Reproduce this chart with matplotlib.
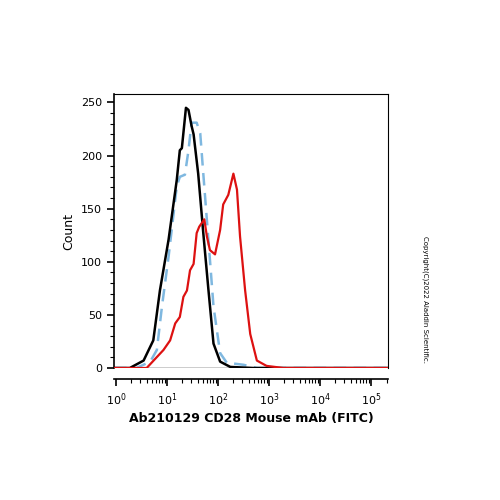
import matplotlib
matplotlib.use("Agg")
import matplotlib.pyplot as plt
import numpy as np
from matplotlib.ticker import LogLocator, MultipleLocator, NullFormatter

black_logx = [-0.04, 0.27, 0.54, 0.73, 0.86, 1.03, 1.19, 1.25, 1.29, 1.37, 1.42, 1.48, 1.52, 1.61, 1.71, 1.81, 1.91, 2.04, 2.24, 2.69, 5.33]
black_y = [0, 0, 7, 26, 73, 121, 177, 205, 207, 245, 243, 228, 220, 183, 127, 74, 23, 6, 1, 0, 0]
blue_logx = [-0.04, 0.40, 0.67, 0.80, 0.90, 1.03, 1.19, 1.25, 1.35, 1.42, 1.48, 1.58, 1.65, 1.71, 1.81, 1.91, 2.04, 2.17, 2.50, 2.76, 5.33]
blue_y = [0, 0, 6, 17, 58, 105, 171, 180, 182, 205, 231, 231, 221, 183, 121, 58, 14, 5, 3, 0, 0]
red_logx = [-0.04, 0.60, 0.93, 1.06, 1.16, 1.25, 1.32, 1.39, 1.45, 1.52, 1.58, 1.63, 1.73, 1.78, 1.84, 1.94, 2.04, 2.10, 2.20, 2.30, 2.37, 2.43, 2.53, 2.63, 2.76, 2.95, 3.28, 5.33]
red_y = [0, 0, 17, 26, 42, 48, 67, 73, 92, 98, 127, 133, 140, 124, 111, 107, 130, 154, 163, 183, 168, 124, 73, 32, 7, 2, 0, 0]

fig = plt.figure(figsize=(5, 5), dpi=100)
ax = fig.add_axes([0.228, 0.264, 0.548, 0.548])
ax.plot(10**np.array(black_logx), black_y, color="black", lw=1.8, zorder=3)
ax.plot(10**np.array(blue_logx), blue_y, color="#7fb8e0", lw=1.8, ls=(0, (5, 3)), zorder=2)
ax.plot(10**np.array(red_logx), red_y, color="#dd1111", lw=1.6, zorder=4)
ax.axhline(0, color="black", lw=1, zorder=1)
ax.set_xscale("log")
ax.set_xlim(10**-0.04, 10**5.33)
ax.set_ylim(0, 258)
ax.spines["bottom"].set_position(("outward", 8))
ax.spines["left"].set_bounds(0, 258)
for s in ax.spines.values():
    s.set_linewidth(0.8)
ax.spines["left"].set_linewidth(1.2)
ax.spines["bottom"].set_linewidth(1.2)
ax.xaxis.set_major_locator(LogLocator(base=10, numticks=10))
ax.xaxis.set_minor_locator(LogLocator(base=10, subs=np.arange(2, 10), numticks=20))
ax.xaxis.set_minor_formatter(NullFormatter())
ax.yaxis.set_major_locator(MultipleLocator(50))
ax.yaxis.set_minor_locator(MultipleLocator(10))
ax.tick_params(which="major", length=5, width=1.2, labelsize=8)
ax.tick_params(which="minor", length=3, width=0.8)
ax.set_ylabel("Count", fontsize=9, labelpad=4)
ax.set_xlabel("Ab210129 CD28 Mouse mAb (FITC)", fontsize=9, fontweight="bold", labelpad=3)
fig.text(0.85, 0.40, "Copyright(C)2022 Aladdin Scientific.", rotation=270, fontsize=5, ha="center", va="center")
fig.savefig("out.png", dpi=100)
